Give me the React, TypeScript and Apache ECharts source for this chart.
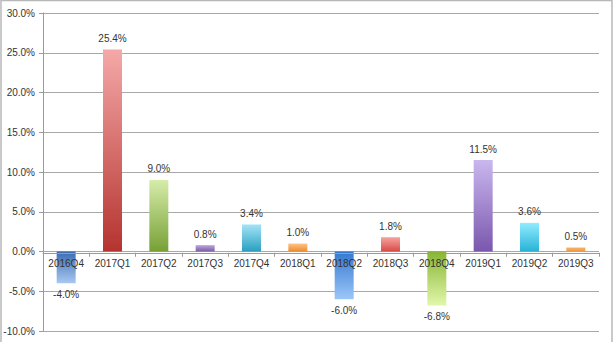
import React, { useEffect, useRef } from "react";
import * as echarts from "echarts";

const categories = ["2016Q4", "2017Q1", "2017Q2", "2017Q3", "2017Q4", "2018Q1", "2018Q2", "2018Q3", "2018Q4", "2019Q1", "2019Q2", "2019Q3"];
const values = [-4.0, 25.4, 9.0, 0.8, 3.4, 1.0, -6.0, 1.8, -6.8, 11.5, 3.6, 0.5];
const yTicks = { min: -10, max: 30, step: 5 };
const baseColors = ["#3a6cb0", "#b5332f", "#77a035", "#7b5aa8", "#2a9fbf", "#f08a2a", "#3478d0", "#d94a45", "#88b534", "#7a57ae", "#28b2d6", "#f09a40"];
const tipColors = ["#a9c8f2", "#f4a9a8", "#d6ecaa", "#bca6da", "#a2e4f7", "#fcc48a", "#9cc6f8", "#f7a3a0", "#e2f7ab", "#cab7ee", "#90ecff", "#f9b16a"];

const FONT = "Liberation Sans, Arial, sans-serif";

export default function App() {
  const ref = useRef<HTMLDivElement>(null);
  useEffect(() => {
    if (!ref.current) return;
    const chart = echarts.init(ref.current, null, { renderer: "svg" });
    const data = values.map((v, i) => {
      const stops = v >= 0
        ? [{ offset: 0, color: tipColors[i] }, { offset: 1, color: baseColors[i] }]
        : [{ offset: 0, color: baseColors[i] }, { offset: 1, color: tipColors[i] }];
      return {
        value: v,
        itemStyle: { color: new echarts.graphic.LinearGradient(0, 0, 0, 1, stops) },
        label: { position: v >= 0 ? "top" : "bottom" },
      };
    });
    chart.setOption({
      animation: false,
      backgroundColor: "#ffffff",
      grid: { left: 43, right: 15, top: 13, bottom: 11, containLabel: false },
      graphic: [
        {
          type: "rect",
          shape: { x: 1, y: 0.5, width: 611, height: 350 },
          style: { fill: "none", stroke: "#b8b8b8", lineWidth: 1.5 },
          silent: true,
        },
      ],
      xAxis: {
        type: "category",
        position: "bottom",
        offset: 0,
        data: categories,
        axisLine: { onZero: false, lineStyle: { color: "#9a9a9a", width: 1 } },
        axisTick: { show: true, length: 4, lineStyle: { color: "#9a9a9a" } },
        axisLabel: { color: "#333", fontSize: 10, fontFamily: FONT, margin: 6, interval: 0 },
        z: 5,
      },
      yAxis: {
        type: "value",
        min: yTicks.min,
        max: yTicks.max,
        interval: yTicks.step,
        axisLine: { show: true, lineStyle: { color: "#9a9a9a", width: 1 } },
        axisTick: { show: true, length: 4, lineStyle: { color: "#9a9a9a" } },
        axisLabel: {
          color: "#333",
          fontSize: 10,
          fontFamily: FONT,
          margin: 8,
          formatter: (v: number) => v.toFixed(1) + "%",
        },
        splitLine: { show: true, lineStyle: { color: "#a8a8a8", width: 1 } },
      },
      series: [
        {
          type: "bar",
          data,
          barWidth: 19,
          label: {
            show: true,
            color: "#333",
            fontSize: 10,
            fontFamily: FONT,
            distance: 6,
            formatter: (p: any) => Number(p.value).toFixed(1) + "%",
          },
        },
      ],
    });
    const y0 = chart.convertToPixel({ yAxisIndex: 0 }, 0) as number;
    const yMin = chart.convertToPixel({ yAxisIndex: 0 }, yTicks.min) as number;
    if (isFinite(y0) && isFinite(yMin)) {
      chart.setOption({ xAxis: { offset: -(yMin - y0) } });
    }
    return () => chart.dispose();
  }, []);
  return <div ref={ref} style={{ position: "fixed", left: 0, top: 0, width: 614, height: 342 }} />;
}
